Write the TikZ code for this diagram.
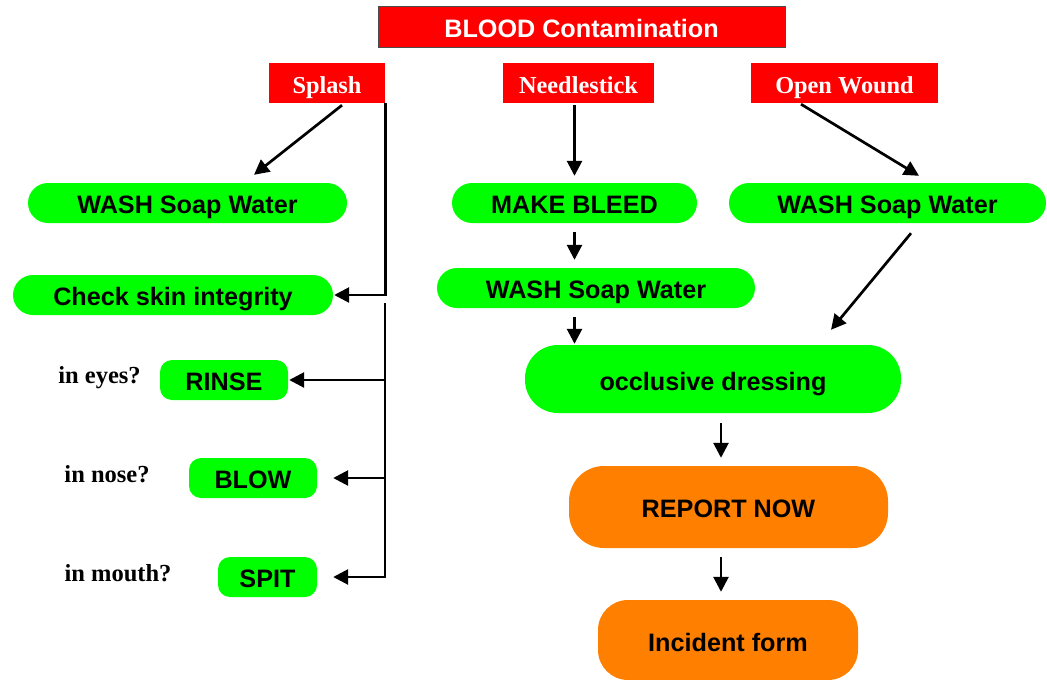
\documentclass[tikz,border=0pt]{standalone}
\usepackage{fontspec}
\setmainfont{Liberation Serif}
\setsansfont{Liberation Sans}
\usetikzlibrary{arrows.meta,calc}
\definecolor{bred}{HTML}{FF0000}
\definecolor{bgreen}{HTML}{00FF00}
\definecolor{borange}{HTML}{FF8000}
\begin{document}
\begin{tikzpicture}[x=1pt,y=-1pt,
  redbox/.style={fill=bred,text=white,font=\bfseries\fontsize{24.3}{28}\selectfont,inner sep=0pt,minimum height=40pt,text height=30pt,text depth=10pt},
  sansbig/.style={font=\sffamily\bfseries\fontsize{25.2}{28}\selectfont},
  gbox/.style={sansbig,fill=bgreen,text=black,inner sep=0pt,minimum height=40pt,text height=30pt,text depth=10pt,rounded corners=20pt},
  gsmall/.style={gbox,rounded corners=12pt},
  obox/.style={sansbig,fill=borange,text=black,inner sep=0pt},
  qlabel/.style={text=black,font=\bfseries\fontsize{24.5}{28}\selectfont,inner sep=0pt,anchor=base},
  arr/.style={line width=2.7pt,-{Triangle[length=15pt,width=15pt]}},
]
\useasboundingbox[fill=white] (0,0) rectangle (1047,680);

% title and categories
\node[sansbig,fill=bred,draw=black!70,line width=0.8pt,text=white,inner sep=0pt,minimum width=407pt,minimum height=41pt,text height=31pt,text depth=10pt] (blood) at (581.5,26.5) {BLOOD Contamination};
\node[redbox,minimum width=116pt] (splash) at (327,83) {Splash};
\node[redbox,minimum width=151pt] (needle) at (578.5,83) {Needlestick};
\node[redbox,minimum width=187pt] (openw) at (844.5,83) {Open Wound};

% left column
\node[gbox,minimum width=319pt] (wash1) at (187.5,203) {WASH Soap Water};
\node[gbox,minimum width=320pt] (check) at (173,295) {Check skin integrity};
\node[gsmall,minimum width=128pt] (rinse) at (224,380) {RINSE};
\node[gsmall,minimum width=128pt] (blow) at (253,478) {BLOW};
\node[gsmall,minimum width=99pt] (spit) at (267.5,577) {SPIT};
\node[qlabel] (qeyes) at (99.5,383) {in eyes?};
\node[qlabel] (qnose) at (107,482) {in nose?};
\node[qlabel] (qmouth) at (118,581) {in mouth?};

% middle and right
\node[gbox,minimum width=245pt] (bleed) at (574.5,203) {MAKE BLEED};
\node[gbox,minimum width=318pt] (wash2) at (596,288) {WASH Soap Water};
\node[gbox,minimum width=317pt] (wash3) at (887.5,203) {WASH Soap Water};
\node[gbox,minimum width=376pt,minimum height=68pt,text height=45pt,text depth=23pt,rounded corners=33pt] (occl) at (713,379) {occlusive dressing};
\node[obox,minimum width=319pt,minimum height=82pt,text height=51pt,text depth=31pt,rounded corners=35pt] (report) at (728.5,507) {REPORT NOW};
\node[obox,minimum width=260pt,minimum height=80pt,text height=51pt,text depth=29pt,rounded corners=30pt] (incident) at (728,640) {Incident form};

% connectors: splash
\draw[arr] ($(splash.south)+(15,2)$) -- ($(wash1.north)+(66.5,-8)$);
\draw[arr,shorten >=1pt] (splash.south east) |- (check.east);
\coordinate (bustop) at (385,303);
\draw[arr,shorten >=16pt] (bustop) |- (spit.east);
\draw[arr,shorten >=16pt] (bustop |- blow.east) -- (blow.east);
\draw[arr,shorten >=1pt] (bustop |- rinse.east) -- (rinse.east);

% connectors: needlestick
\draw[arr,shorten <=2pt,shorten >=7pt] (needle.south -| bleed.north) -- (bleed.north);
\draw[arr,shorten <=9pt,shorten >=8pt] (bleed.south) -- (bleed.south |- wash2.north);
\draw[arr,shorten <=9pt,shorten >=1pt] (bleed.south |- wash2.south) -- (bleed.south |- occl.north);

% connectors: open wound
\draw[arr] ($(openw.south)+(-43.5,1)$) -- ($(wash3.north)+(31.5,-7)$);
\draw[arr] ($(wash3.south)+(23.5,10)$) -- ($(occl.north)+(118,-15)$);

% lower chain
\draw[arr,shorten <=10pt,shorten >=8pt] ($(occl.south)+(8,0)$) -- ($(report.north)+(-7.5,0)$);
\draw[arr,shorten <=9pt,shorten >=8pt] ($(report.south)+(-7.5,0)$) -- ($(incident.north)+(-7,0)$);
\end{tikzpicture}
\end{document}
